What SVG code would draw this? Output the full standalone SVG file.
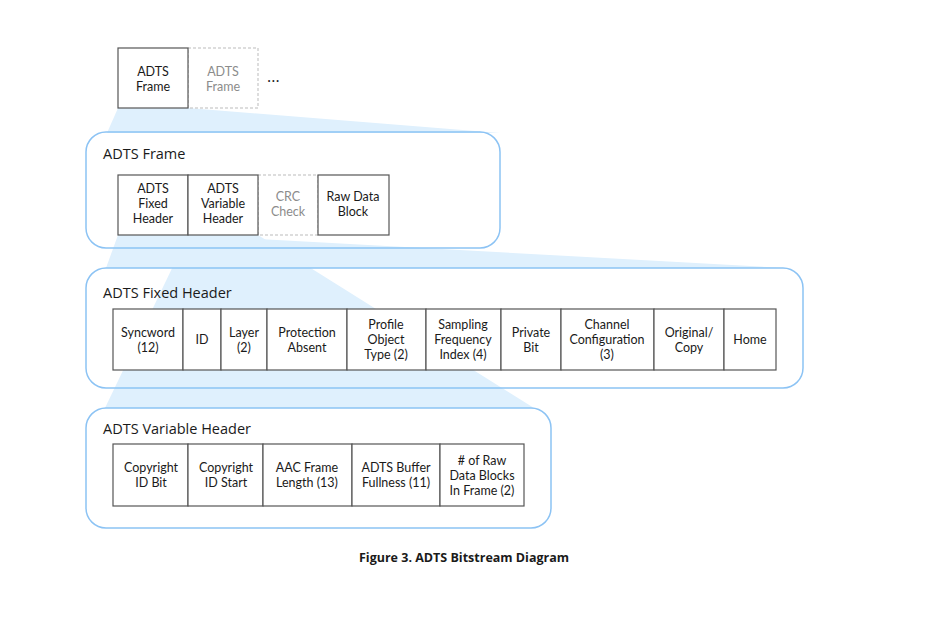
<svg xmlns="http://www.w3.org/2000/svg" width="941" height="622" viewBox="0 0 941 622">
<style>
text{font-family:"Open Sans","Liberation Sans",sans-serif;fill:#1a1a1a;}
.c{font-family:Lato,"Liberation Sans",sans-serif;font-size:12.5px;text-anchor:middle;}
.g{fill:#8c8c8c;}
.t{font-size:14.5px;}
.cap{font-size:12.5px;font-weight:bold;text-anchor:middle;}
.box{fill:#fff;stroke:#555;stroke-width:1.2;}
.dash{fill:#fff;stroke:#bbb;stroke-width:1;stroke-dasharray:3 2;}
.cont{fill:none;stroke:#8cc3f4;stroke-width:1.5;}
.fun{fill:#dff0fd;}
</style>
<g id="connectors">
<polygon class="fun" points="118,108 188,108 500,133 107,133"/>
<polygon class="fun" points="118,235 188,235 785,268 106,268"/>
<polygon class="fun" points="188,235 258,235 534,408 105,408"/>
</g>
<g id="top-frames">
<rect class="dash" x="188" y="48" width="70" height="60"/>
<rect class="box" x="118" y="48" width="70" height="60"/>
<text class="c" x="153" y="76">ADTS</text><text class="c" x="153" y="91">Frame</text>
<text class="c g" x="223" y="76">ADTS</text><text class="c g" x="223" y="91">Frame</text>
<text x="267" y="82" style="font-size:16px">...</text>
</g>
<g id="adts-frame">
<rect class="cont" x="86" y="132" width="414" height="116" rx="20"/>
<text class="t" x="103" y="159">ADTS Frame</text>
<rect class="dash" x="258" y="175" width="60" height="60"/>
<rect class="box" x="118" y="175" width="70" height="60"/>
<rect class="box" x="188" y="175" width="70" height="60"/>
<rect class="box" x="318" y="175" width="71" height="60"/>
<text class="c" x="153" y="193">ADTS</text><text class="c" x="153" y="208">Fixed</text><text class="c" x="153" y="223">Header</text>
<text class="c" x="223" y="193">ADTS</text><text class="c" x="223" y="208">Variable</text><text class="c" x="223" y="223">Header</text>
<text class="c g" x="288" y="201">CRC</text><text class="c g" x="288" y="216">Check</text>
<text class="c" x="353" y="201">Raw Data</text><text class="c" x="353" y="216">Block</text>
</g>
<g id="fixed-header">
<rect class="cont" x="86" y="268" width="717" height="120" rx="20"/>
<text class="t" x="103" y="298">ADTS Fixed Header</text>
<rect class="box" x="113" y="309" width="70" height="61"/>
<rect class="box" x="183" y="309" width="38" height="61"/>
<rect class="box" x="221" y="309" width="46" height="61"/>
<rect class="box" x="267" y="309" width="80" height="61"/>
<rect class="box" x="347" y="309" width="79" height="61"/>
<rect class="box" x="426" y="309" width="75" height="61"/>
<rect class="box" x="501" y="309" width="60" height="61"/>
<rect class="box" x="561" y="309" width="93" height="61"/>
<rect class="box" x="654" y="309" width="70" height="61"/>
<rect class="box" x="724" y="309" width="52" height="61"/>
<text class="c" x="148" y="337">Syncword</text><text class="c" x="148" y="352">(12)</text>
<text class="c" x="202" y="344">ID</text>
<text class="c" x="244" y="337">Layer</text><text class="c" x="244" y="352">(2)</text>
<text class="c" x="307" y="337">Protection</text><text class="c" x="307" y="352">Absent</text>
<text class="c" x="386" y="329">Profile</text><text class="c" x="386" y="344">Object</text><text class="c" x="386" y="359">Type (2)</text>
<text class="c" x="463" y="329">Sampling</text><text class="c" x="463" y="344">Frequency</text><text class="c" x="463" y="359">Index (4)</text>
<text class="c" x="531" y="337">Private</text><text class="c" x="531" y="352">Bit</text>
<text class="c" x="607" y="329">Channel</text><text class="c" x="607" y="344">Configuration</text><text class="c" x="607" y="359">(3)</text>
<text class="c" x="689" y="337">Original/</text><text class="c" x="689" y="352">Copy</text>
<text class="c" x="750" y="344">Home</text>
</g>
<g id="variable-header">
<rect class="cont" x="86" y="408" width="465" height="120" rx="20"/>
<text class="t" x="103" y="434">ADTS Variable Header</text>
<rect class="box" x="113" y="444" width="75" height="62"/>
<rect class="box" x="188" y="444" width="75" height="62"/>
<rect class="box" x="263" y="444" width="89" height="62"/>
<rect class="box" x="352" y="444" width="88" height="62"/>
<rect class="box" x="440" y="444" width="84" height="62"/>
<text class="c" x="151" y="472">Copyright</text><text class="c" x="151" y="487">ID Bit</text>
<text class="c" x="226" y="472">Copyright</text><text class="c" x="226" y="487">ID Start</text>
<text class="c" x="307" y="472">AAC Frame</text><text class="c" x="307" y="487">Length (13)</text>
<text class="c" x="396" y="472">ADTS Buffer</text><text class="c" x="396" y="487">Fullness (11)</text>
<text class="c" x="482" y="465">#  of Raw</text><text class="c" x="482" y="480">Data Blocks</text><text class="c" x="482" y="495">In Frame (2)</text>
</g>
<text class="cap" x="464" y="562">Figure 3. ADTS Bitstream Diagram</text>
</svg>
